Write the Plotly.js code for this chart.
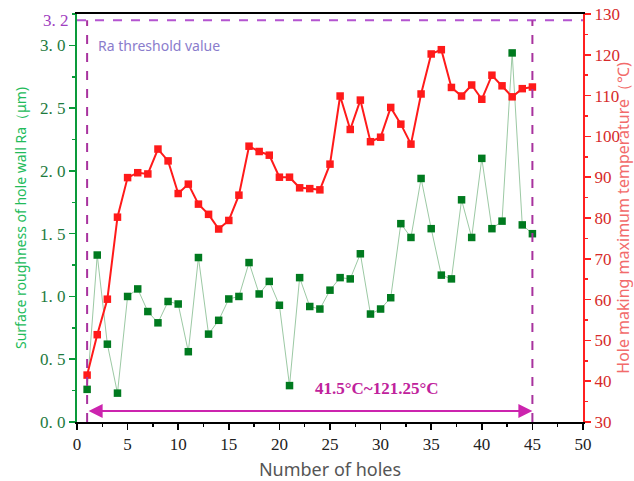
<!DOCTYPE html>
<html>
<head>
<meta charset="utf-8">
<script src="https://cdn.plot.ly/plotly-3.0.1.min.js"></script>
<style>html,body{margin:0;padding:0;background:#fff;}#chart{width:634px;height:481px;}</style>
</head>
<body>
<div id="chart"></div>
<script>
// ---- data ----
const holes = [1,2,3,4,5,6,7,8,9,10,11,12,13,14,15,16,17,18,19,20,21,22,23,24,25,26,27,28,29,30,31,32,33,34,35,36,37,38,39,40,41,42,43,44,45];
const roughnessRa = [0.26,1.33,0.62,0.23,1.00,1.06,0.88,0.79,0.96,0.94,0.56,1.31,0.70,0.81,0.98,1.00,1.27,1.02,1.12,0.93,0.29,1.15,0.92,0.90,1.05,1.15,1.14,1.34,0.86,0.90,0.99,1.58,1.47,1.94,1.54,1.17,1.14,1.77,1.47,2.10,1.54,1.60,2.94,1.57,1.50];
const maxTemp = [41.5,51.4,60.1,80.2,89.9,91.1,90.8,96.9,94.0,86.0,88.3,83.4,80.9,77.3,79.4,85.6,97.6,96.3,95.4,90.0,90.0,87.4,87.2,86.9,93.2,109.9,101.7,108.9,98.7,99.8,107.1,103.0,98.1,110.4,120.2,121.25,112.0,109.9,112.6,109.1,115.0,112.4,109.7,111.7,112.1];
const raTickVals = [0,0.5,1.0,1.5,2.0,2.5,3.0];
const raTickText = ['0. 0','0. 5','1. 0','1. 5','2. 0','2. 5','3. 0'];
const tempTickVals = [30,40,50,60,70,80,90,100,110,120,130];
const holeTickVals = [0,5,10,15,20,25,30,35,40,45,50];
const raThreshold = 3.2;
const raThresholdLabel = '3. 2';
const rangeStart = 1, rangeEnd = 45;
const rangeLabel = '41.5°C~121.25°C';

const serif = 'Liberation Serif, serif';
const sans = 'Noto Sans, sans-serif';

const traces = [
  {x: holes, y: roughnessRa, type: 'scatter', mode: 'lines+markers', yaxis: 'y',
   line: {color: '#9cc9a4', width: 1},
   marker: {symbol: 'square', size: 7.5, color: '#007a1f'}, showlegend: false},
  {x: holes, y: maxTemp, type: 'scatter', mode: 'lines+markers', yaxis: 'y2',
   line: {color: '#ff1a1a', width: 2},
   marker: {symbol: 'square', size: 7.5, color: '#ff1a1a'}, showlegend: false}
];

const layout = {
  width: 634, height: 481,
  margin: {l: 77, r: 51, t: 14, b: 59},
  paper_bgcolor: '#ffffff', plot_bgcolor: '#ffffff',
  showlegend: false,
  xaxis: {
    range: [0, 50], tickvals: holeTickVals, showgrid: false, zeroline: false,
    showline: true, linecolor: '#000', linewidth: 2, mirror: true,
    ticks: 'outside', ticklen: 6, tickwidth: 1.5, tickcolor: '#000',
    minor: {dtick: 2.5, ticks: 'outside', ticklen: 3, tickcolor: '#000', showgrid: false},
    tickfont: {family: serif, size: 17, color: '#222'},
    title: {text: 'Number of holes', font: {family: sans, size: 18, color: '#555'}, standoff: 10}
  },
  yaxis: {
    range: [0, 3.25], tickvals: raTickVals, ticktext: raTickText, showgrid: false, zeroline: false,
    showline: true, linecolor: '#0a9a3a', linewidth: 2,
    ticks: 'outside', ticklen: 6, tickwidth: 1.5, tickcolor: '#0a9a3a',
    minor: {dtick: 0.25, ticks: 'outside', ticklen: 3, tickcolor: '#0a9a3a', showgrid: false},
    tickfont: {family: serif, size: 17, color: '#1d7a3e'},
    title: {text: 'Surface roughness of hole wall Ra（μm)', font: {family: sans, size: 14, color: '#22bb5a'}, standoff: 10}
  },
  yaxis2: {
    range: [30, 130], tickvals: tempTickVals, overlaying: 'y', side: 'right',
    showgrid: false, zeroline: false,
    showline: true, linecolor: '#ff2020', linewidth: 2,
    ticks: 'outside', ticklen: 6, tickwidth: 1.5, tickcolor: '#ff2020',
    minor: {dtick: 5, ticks: 'outside', ticklen: 3, tickcolor: '#ff2020', showgrid: false},
    tickfont: {family: serif, size: 17, color: '#d62a2a'},
    title: {text: 'Hole making maximum temperature（℃)', font: {family: sans, size: 16, color: '#f26b6b'}, standoff: 2}
  },
  shapes: [
    {type: 'line', xref: 'paper', yref: 'y', x0: 0, x1: 1, y0: raThreshold, y1: raThreshold,
     line: {color: '#b455d0', width: 2, dash: 'dash'}},
    {type: 'line', xref: 'x', yref: 'y', x0: rangeStart, x1: rangeStart, y0: 0, y1: raThreshold,
     line: {color: '#a8329e', width: 2, dash: 'dash'}},
    {type: 'line', xref: 'x', yref: 'y', x0: rangeEnd, x1: rangeEnd, y0: 0, y1: raThreshold,
     line: {color: '#a8329e', width: 2, dash: 'dash'}}
  ],
  annotations: [
    {xref: 'paper', yref: 'y', x: 0, y: raThreshold, xanchor: 'right', yanchor: 'middle', xshift: -6,
     text: raThresholdLabel, showarrow: false, font: {family: serif, size: 17, color: '#a040c0'}},
    {xref: 'x', yref: 'y', x: 1.9, y: 3.0, xanchor: 'left', yanchor: 'middle',
     text: 'Ra threshold value', showarrow: false, font: {family: sans, size: 14, color: '#8a7ccc'}},
    {xref: 'x', yref: 'y', x: rangeEnd, y: 0.087, ax: rangeStart, ay: 0.087, axref: 'x', ayref: 'y',
     text: '', showarrow: true, arrowside: 'end+start', arrowhead: 2, arrowsize: 1.4, arrowwidth: 2,
     arrowcolor: '#cc24ae', standoff: 0, startstandoff: 0},
    {xref: 'x', yref: 'y', x: 29.6, y: 0.27, xanchor: 'center', yanchor: 'middle',
     text: '<b>' + rangeLabel + '</b>', showarrow: false, font: {family: serif, size: 17, color: '#c0229c'}}
  ]
};

Plotly.newPlot('chart', traces, layout, {displayModeBar: false, staticPlot: true});
</script>
</body>
</html>
